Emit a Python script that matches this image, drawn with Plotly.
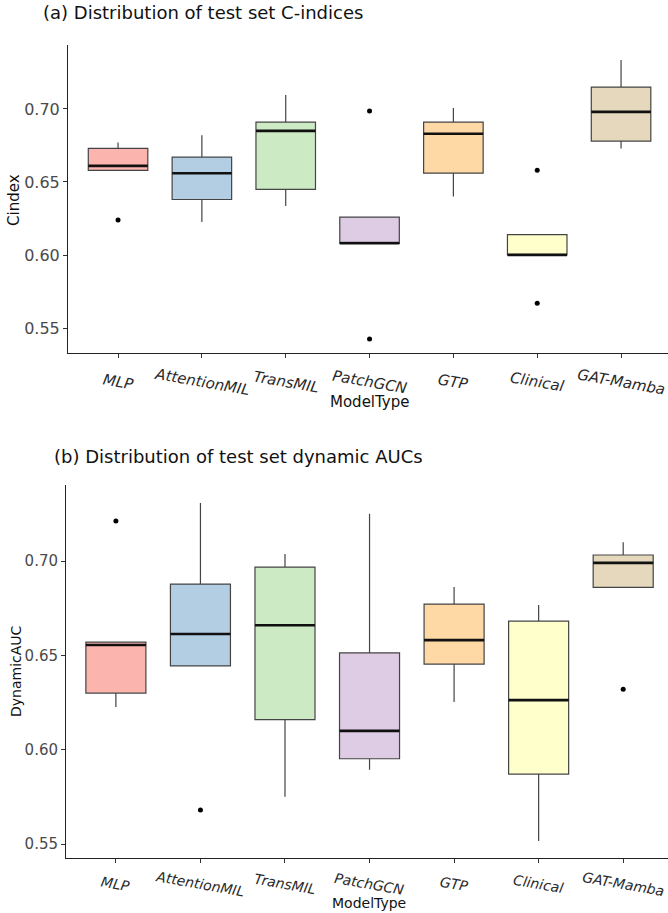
import plotly.graph_objects as go

models = ["MLP", "AttentionMIL", "TransMIL", "PatchGCN", "GTP", "Clinical", "GAT-Mamba"]
colors = ["#FBB4AE", "#B3CDE3", "#CCEBC5", "#DECBE4", "#FED9A6", "#FFFFCC", "#E5D8BD"]

# (a) C-index box statistics
c_lower = [0.658, 0.6226, 0.6336, 0.608, 0.640, 0.600, 0.673]
c_q1 = [0.658, 0.638, 0.645, 0.608, 0.656, 0.600, 0.678]
c_median = [0.661, 0.656, 0.685, 0.608, 0.683, 0.600, 0.698]
c_q3 = [0.673, 0.667, 0.691, 0.626, 0.691, 0.614, 0.715]
c_upper = [0.677, 0.682, 0.7096, 0.626, 0.7007, 0.614, 0.7336]
c_out_x = ["MLP", "PatchGCN", "PatchGCN", "Clinical", "Clinical"]
c_out_y = [0.624, 0.6986, 0.5425, 0.658, 0.567]

# (b) Dynamic AUC box statistics
d_lower = [0.6226, 0.6444, 0.575, 0.5894, 0.6253, 0.5516, 0.686]
d_q1 = [0.630, 0.6444, 0.6159, 0.5952, 0.6454, 0.5871, 0.686]
d_median = [0.6555, 0.6613, 0.666, 0.610, 0.6581, 0.6263, 0.699]
d_q3 = [0.657, 0.6878, 0.6968, 0.6513, 0.6772, 0.6682, 0.7032]
d_upper = [0.657, 0.7307, 0.7037, 0.725, 0.6862, 0.6767, 0.710]
d_out_x = ["MLP", "AttentionMIL", "GAT-Mamba"]
d_out_y = [0.7212, 0.568, 0.632]

y_ticks = [0.55, 0.60, 0.65, 0.70]

W, H = 668, 913
FONT = "DejaVu Sans, Liberation Sans, Arial, sans-serif"

fig = go.Figure()


def add_panel(xa, ya, lower, q1, med, q3, upper, ox, oy):
    for i, m in enumerate(models):
        fig.add_trace(go.Box(
            x=[m], q1=[q1[i]], median=[med[i]], q3=[q3[i]],
            lowerfence=[lower[i]], upperfence=[upper[i]],
            fillcolor=colors[i], line=dict(color="#444444", width=1.2),
            whiskerwidth=0, width=0.71, boxpoints=False,
            xaxis=xa, yaxis=ya, showlegend=False, hoverinfo="skip"))
        # thicker black median line
        fig.add_trace(go.Box(
            x=[m], q1=[med[i]], median=[med[i]], q3=[med[i]],
            lowerfence=[med[i]], upperfence=[med[i]],
            fillcolor="rgba(0,0,0,0)", line=dict(color="#111111", width=2.6),
            whiskerwidth=0, width=0.71, boxpoints=False,
            xaxis=xa, yaxis=ya, showlegend=False, hoverinfo="skip"))
    fig.add_trace(go.Scatter(
        x=ox, y=oy, mode="markers", marker=dict(color="black", size=5),
        xaxis=xa, yaxis=ya, showlegend=False, hoverinfo="skip"))


add_panel("x", "y", c_lower, c_q1, c_median, c_q3, c_upper, c_out_x, c_out_y)
add_panel("x2", "y2", d_lower, d_q1, d_median, d_q3, d_upper, d_out_x, d_out_y)

axis_common = dict(showgrid=False, zeroline=False, showline=True, linecolor="#222222",
                   linewidth=1, ticks="outside", ticklen=4, tickcolor="#333333",
                   automargin=False)

fig.update_layout(
    width=W, height=H, margin=dict(l=0, r=0, t=0, b=0),
    paper_bgcolor="white", plot_bgcolor="white", boxmode="overlay",
    font=dict(family=FONT, color="#222222"),
    xaxis=dict(**axis_common, domain=[68 / W, 1], type="category",
               categoryorder="array", categoryarray=models, range=[-0.597, 6.56],
               showticklabels=False),
    yaxis=dict(**axis_common, domain=[1 - 353 / H, 1 - 45 / H], range=[0.5329, 0.7438],
               tickvals=y_ticks, tickformat=".2f",
               tickfont=dict(size=16, color="#4a4a4a")),
    xaxis2=dict(**axis_common, domain=[66 / W, 1], type="category", anchor="y2",
                categoryorder="array", categoryarray=models, range=[-0.59, 6.53],
                showticklabels=False),
    yaxis2=dict(**axis_common, domain=[1 - 858 / H, 1 - 485 / H], range=[0.5426, 0.7403],
                anchor="x2", tickvals=y_ticks, tickformat=".2f",
                tickfont=dict(size=15, color="#4a4a4a")),
)

annots = [
    dict(text="(a) Distribution of test set C-indices", x=41 / W, y=1 - 12.5 / H,
         xanchor="left", yanchor="middle", font=dict(size=18, color="#111111")),
    dict(text="(b) Distribution of test set dynamic AUCs", x=52 / W, y=1 - 456 / H,
         xanchor="left", yanchor="middle", font=dict(size=18, color="#111111")),
    dict(text="Cindex", x=14 / W, y=1 - 200 / H, textangle=-90,
         xanchor="center", yanchor="middle", font=dict(size=15, color="#111111")),
    dict(text="DynamicAUC", x=16 / W, y=1 - 671 / H, textangle=-90,
         xanchor="center", yanchor="middle", font=dict(size=14, color="#111111")),
    dict(text="ModelType", x=370 / W, y=1 - 402 / H,
         xanchor="center", yanchor="middle", font=dict(size=15, color="#111111")),
    dict(text="ModelType", x=369 / W, y=1 - 903 / H,
         xanchor="center", yanchor="middle", font=dict(size=14, color="#111111")),
]
for a in annots:
    fig.add_annotation(xref="paper", yref="paper", showarrow=False, **a)

# rotated, italic category labels centred under each tick
for xa, yc, fs in (("x", 382, 15), ("x2", 884, 14)):
    for m in models:
        fig.add_annotation(xref=xa, yref="paper", x=m, y=1 - yc / H, text=m,
                           textangle=10, showarrow=False, xanchor="center",
                           yanchor="middle",
                           font=dict(size=fs, style="italic", color="#2a2a2a"))

fig.write_html("out.html", config={"displayModeBar": False},
               post_script="document.body.style.margin='0';")
